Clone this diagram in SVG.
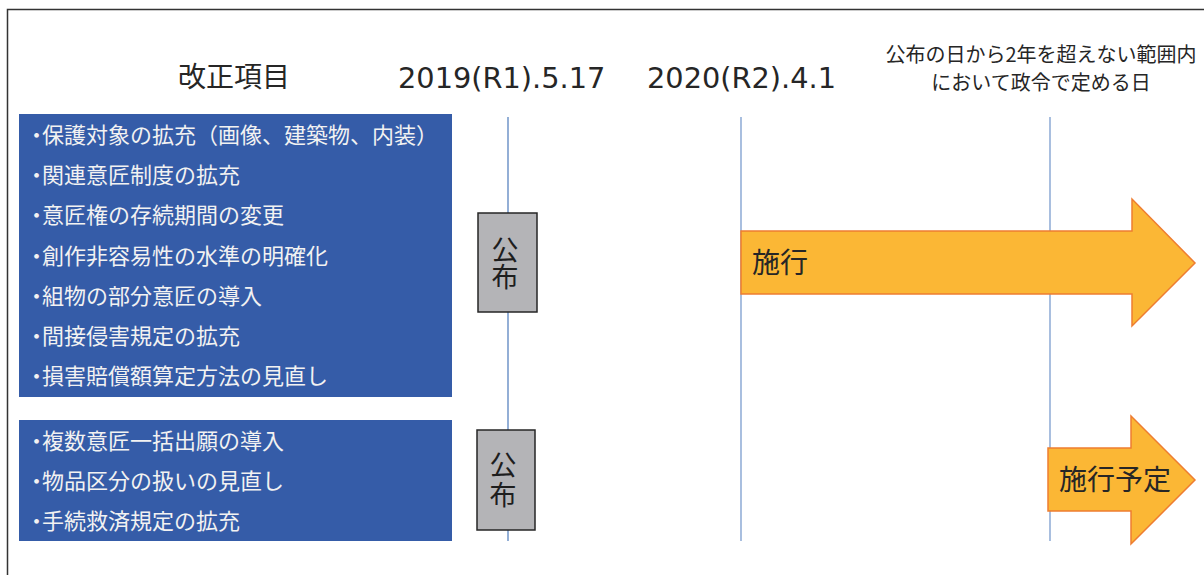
<svg xmlns="http://www.w3.org/2000/svg" width="1204" height="575" viewBox="0 0 1204 575">
<style>
.hdr{font-family:"Noto Sans CJK JP",sans-serif;fill:#262626;}
.num{font-family:"DejaVu Sans",sans-serif;font-size:28.8px;fill:#262626;}
.item{font-family:"Noto Sans CJK JP",sans-serif;font-size:22px;fill:#f2f2f2;}
.bul{font-feature-settings:"palt";}
.blue{fill:#355ca8;}
.tl{stroke:#7a9cce;stroke-width:1.3;fill:none;}
.pub{fill:#b4b4b7;stroke:#262626;stroke-width:1.5;}
.pubt{font-family:"Noto Sans CJK JP",sans-serif;font-size:27px;fill:#1e1e1e;text-anchor:middle;writing-mode:vertical-rl;}
.arrow{fill:#fbb735;stroke:#ee7d31;stroke-width:1.5;}
.at{font-family:"Noto Sans CJK JP",sans-serif;font-size:28px;fill:#262626;}
</style>
<rect x="0" y="0" width="1204" height="575" fill="#ffffff"/>
<rect x="7.5" y="9.5" width="1300" height="700" fill="none" stroke="#333333" stroke-width="1.5"/>

<g id="headers">
<text class="hdr" x="234" y="87" font-size="28" text-anchor="middle">改正項目</text>
<text class="num" x="398" y="88">2019(R1).5.17</text>
<text class="num" x="647" y="88">2020(R2).4.1</text>
<text class="hdr" x="1041" y="62" font-size="20" text-anchor="middle">公布の日から2年を超えない範囲内</text>
<text class="hdr" x="1041" y="90" font-size="20" text-anchor="middle">において政令で定める日</text>
</g>

<g id="connectors">
<line class="tl" x1="508" y1="117" x2="508" y2="541" style="stroke:#5a84c0"/>
<line class="tl" x1="741" y1="117" x2="741" y2="541"/>
<line class="tl" x1="1050" y1="117" x2="1050" y2="541"/>
</g>

<g id="items1">
<rect class="blue" x="19" y="114" width="433" height="283"/>
<text class="item" x="31" y="143"><tspan class="bul">・</tspan><tspan x="42">保護対象の拡充（画像、建築物、内装）</tspan></text>
<text class="item" x="31" y="183"><tspan class="bul">・</tspan><tspan x="42">関連意匠制度の拡充</tspan></text>
<text class="item" x="31" y="223"><tspan class="bul">・</tspan><tspan x="42">意匠権の存続期間の変更</tspan></text>
<text class="item" x="31" y="264"><tspan class="bul">・</tspan><tspan x="42">創作非容易性の水準の明確化</tspan></text>
<text class="item" x="31" y="304"><tspan class="bul">・</tspan><tspan x="42">組物の部分意匠の導入</tspan></text>
<text class="item" x="31" y="344"><tspan class="bul">・</tspan><tspan x="42">間接侵害規定の拡充</tspan></text>
<text class="item" x="31" y="384"><tspan class="bul">・</tspan><tspan x="42">損害賠償額算定方法の見直し</tspan></text>
</g>

<g id="items2">
<rect class="blue" x="19" y="420" width="433" height="121"/>
<text class="item" x="31" y="449"><tspan class="bul">・</tspan><tspan x="42">複数意匠一括出願の導入</tspan></text>
<text class="item" x="31" y="489"><tspan class="bul">・</tspan><tspan x="42">物品区分の扱いの見直し</tspan></text>
<text class="item" x="31" y="529"><tspan class="bul">・</tspan><tspan x="42">手続救済規定の拡充</tspan></text>
</g>

<g id="pub1">
<rect class="pub" x="478" y="213" width="59" height="99"/>
<text class="pubt" x="505" y="263.5">公布</text>
</g>

<g id="pub2">
<rect class="pub" x="477" y="430" width="58" height="100"/>
<text class="pubt" x="503" y="481" letter-spacing="3">公布</text>
</g>

<g id="enforce">
<polygon class="arrow" points="741,231 1132,231 1132,199 1195,263 1132,326 1132,294 741,294"/>
<text class="at" x="752" y="273">施行</text>
</g>

<g id="planned">
<polygon class="arrow" points="1048,448 1131,448 1131,416 1195,480 1131,544 1131,511 1048,511"/>
<text class="at" x="1059" y="490">施行予定</text>
</g>
</svg>
